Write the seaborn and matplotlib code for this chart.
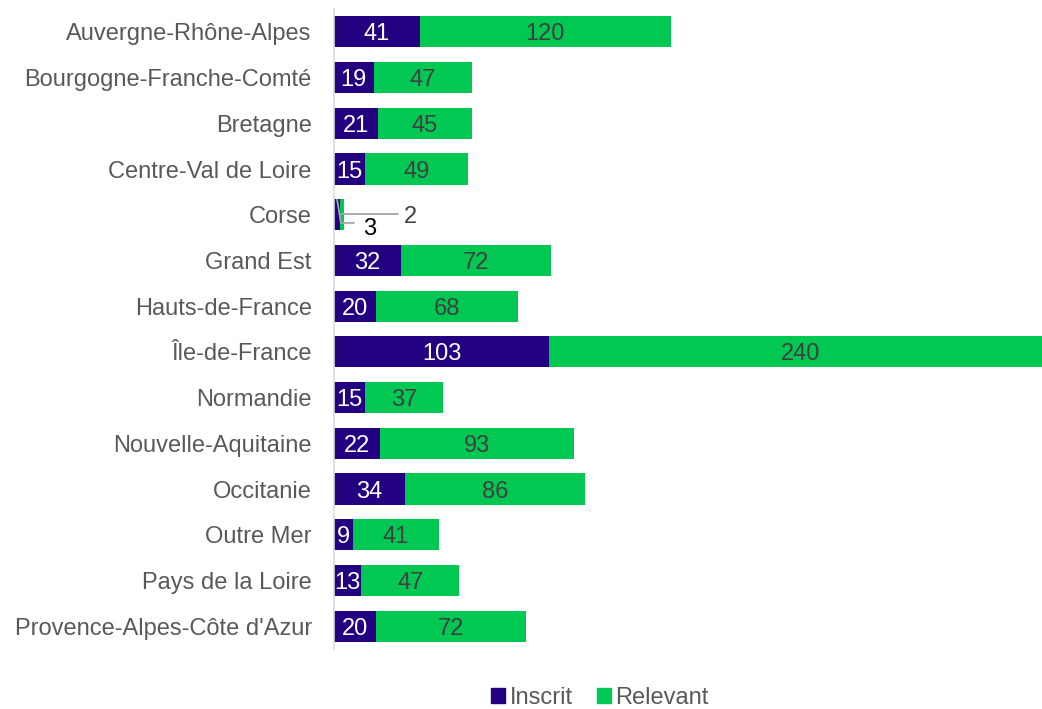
import matplotlib
matplotlib.use("Agg")
import matplotlib.pyplot as plt
import seaborn as sns
import pandas as pd
from matplotlib.patches import Patch

regions = ["Auvergne-Rhône-Alpes", "Bourgogne-Franche-Comté", "Bretagne", "Centre-Val de Loire",
           "Corse", "Grand Est", "Hauts-de-France", "Île-de-France", "Normandie",
           "Nouvelle-Aquitaine", "Occitanie", "Outre Mer", "Pays de la Loire",
           "Provence-Alpes-Côte d'Azur"]
inscrit = [41, 19, 21, 15, 3, 32, 20, 103, 15, 22, 34, 9, 13, 20]
relevant = [120, 47, 45, 49, 2, 72, 68, 240, 37, 93, 86, 41, 47, 72]

BLUE = "#23007f"
GREEN = "#00c853"
FS = 17

sns.set_theme(style="white")
plt.rcParams['font.family'] = ['Liberation Sans', 'DejaVu Sans']

df = pd.DataFrame({"region": regions, "inscrit": inscrit, "relevant": relevant})
df["total"] = df["inscrit"] + df["relevant"]

fig = plt.figure(figsize=(10.42, 7.09), dpi=100)
ax = fig.add_axes([334/1042, 1 - 649/709, 1 - 334/1042, (649 - 9)/709])

sns.barplot(data=df, y="region", x="total", color=GREEN, orient="h", width=0.68,
            saturation=1, ax=ax, order=regions, linewidth=0)
sns.barplot(data=df, y="region", x="inscrit", color=BLUE, orient="h", width=0.68,
            saturation=1, ax=ax, order=regions, linewidth=0)

ax.set_xlim(0, 338.7)
ax.set_ylim(13.5, -0.5)
ax.set_xlabel("")
ax.set_ylabel("")
ax.set_xticks([])
for s in ["top", "right", "bottom"]:
    ax.spines[s].set_visible(False)
ax.spines["left"].set_color("#d9d9d9")
ax.spines["left"].set_linewidth(1.2)
ax.tick_params(axis="y", length=0, pad=16, labelsize=FS, labelcolor="#595959")

for i, (a, b) in enumerate(zip(inscrit, relevant)):
    if regions[i] == "Corse":
        continue
    ax.text(a / 2, i, str(a), ha="center", va="center_baseline", color="white", fontsize=FS)
    ax.text(a + b / 2, i, str(b), ha="center", va="center_baseline", color="#404040", fontsize=FS)

# Corse: labels placed outside with leader lines
ci = regions.index("Corse")
a, b = inscrit[ci], relevant[ci]
LEADER = "#a6a6a6"
ax.plot([a + b - 1.5, 30.6], [ci - 0.02, ci - 0.02], color=LEADER, lw=1.3, zorder=5)
ax.text(33.3, ci, str(b), ha="left", va="center_baseline", color="#404040", fontsize=FS)
ax.plot([a / 2, a + 0.3, 9.6], [ci - 0.33, ci + 0.18, ci + 0.18], color=LEADER, lw=1.3, zorder=5)
ax.text(17.2, ci + 0.26, str(a), ha="center", va="center_baseline", color="black", fontsize=FS)

handles = [Patch(color=BLUE, label="Inscrit"), Patch(color=GREEN, label="Relevant")]
fig.legend(handles=handles, loc="center", bbox_to_anchor=(600/1042, 1 - 698/709), ncol=2,
           frameon=False, fontsize=FS, labelcolor="#595959", handlelength=0.6,
           handleheight=0.6, handletextpad=0.2, columnspacing=1.0)

fig.savefig("out.png", dpi=100)
